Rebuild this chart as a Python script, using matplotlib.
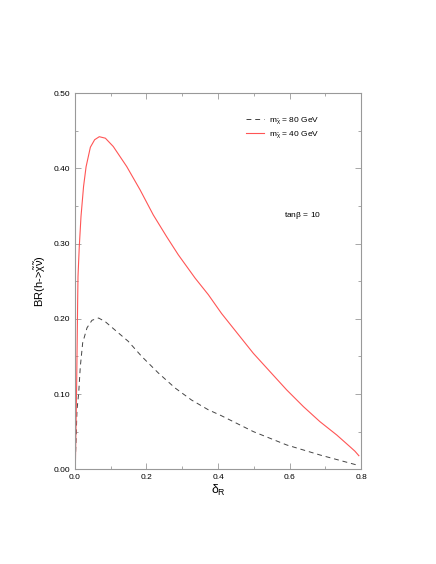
import matplotlib
matplotlib.use('Agg')
import matplotlib.pyplot as plt
from matplotlib.ticker import MultipleLocator, FormatStrFormatter

plt.rcParams['font.family'] = ['Liberation Sans', 'DejaVu Sans']
plt.rcParams['mathtext.fontset'] = 'custom'
plt.rcParams['mathtext.rm'] = 'Liberation Sans'
plt.rcParams['mathtext.it'] = 'Liberation Sans'

# m_chi = 40 GeV (red solid)
delta_40 = [0.0, 0.001, 0.0047, 0.0075, 0.0084, 0.012, 0.0168, 0.024, 0.031, 0.043,
            0.055, 0.068, 0.085, 0.107, 0.1446, 0.182, 0.219, 0.2565, 0.289, 0.336,
            0.373, 0.410, 0.457, 0.499, 0.545, 0.592, 0.639, 0.685, 0.732, 0.769,
            0.783, 0.794]
br_40 = [0.0, 0.003, 0.114, 0.225, 0.256, 0.296, 0.336, 0.376, 0.402, 0.428,
         0.438, 0.442, 0.440, 0.429, 0.4024, 0.3714, 0.338, 0.309, 0.285, 0.254,
         0.232, 0.207, 0.179, 0.154, 0.130, 0.1055, 0.0832, 0.0633, 0.0456, 0.030,
         0.024, 0.018]

# m_chi = 80 GeV (black dashed)
delta_80 = [0.0, 0.003, 0.0056, 0.0103, 0.0148, 0.0215, 0.0336, 0.0475, 0.066, 0.085,
            0.112, 0.149, 0.1865, 0.233, 0.280, 0.326, 0.373, 0.408, 0.499, 0.592,
            0.685, 0.788, 0.794]
br_80 = [0.0, 0.039, 0.079, 0.101, 0.136, 0.168, 0.188, 0.198, 0.201, 0.196,
         0.185, 0.170, 0.150, 0.128, 0.108, 0.092, 0.079, 0.0715, 0.050, 0.0323,
         0.019, 0.0057, 0.005]

fig = plt.figure(figsize=(4.36, 5.64), dpi=100)
ax = fig.add_axes([0.172, 0.168, 0.656, 0.667])

ax.plot(delta_80, br_80, color='#444444', lw=0.7, dashes=(5, 4),
        label=r'm$_{\tilde{\chi}}$ = 80 GeV')
ax.plot(delta_40, br_40, color='#ff5555', lw=0.8, label=r'm$_{\tilde{\chi}}$ = 40 GeV')

ax.set_xlim(0, 0.8)
ax.set_ylim(0, 0.5)
ax.xaxis.set_major_locator(MultipleLocator(0.2))
ax.xaxis.set_minor_locator(MultipleLocator(0.1))
ax.yaxis.set_major_locator(MultipleLocator(0.1))
ax.yaxis.set_minor_locator(MultipleLocator(0.05))
ax.xaxis.set_major_formatter(FormatStrFormatter('%.1f'))
ax.yaxis.set_major_formatter(FormatStrFormatter('%.2f'))
ax.tick_params(which='both', direction='in', top=True, right=True, labelsize=6,
               color='#999999', width=0.6)
ax.tick_params(which='major', length=4)
ax.tick_params(which='minor', length=2)
for s in ax.spines.values():
    s.set_color('#999999')
    s.set_linewidth(0.8)

ax.set_xlabel(r'$\delta_R$', fontsize=9, labelpad=1)
ax.set_ylabel(r'BR(h->$\tilde{\chi}\tilde{\nu}$)', fontsize=8, labelpad=4)

ax.legend(loc='upper right', bbox_to_anchor=(0.88, 0.96), frameon=False, fontsize=6,
          handlelength=2.2, handletextpad=0.6, labelspacing=0.3)
ax.text(0.73, 0.67, r'tan$\beta$ = 10', transform=ax.transAxes, fontsize=6)

fig.savefig('out.png', dpi=100)
